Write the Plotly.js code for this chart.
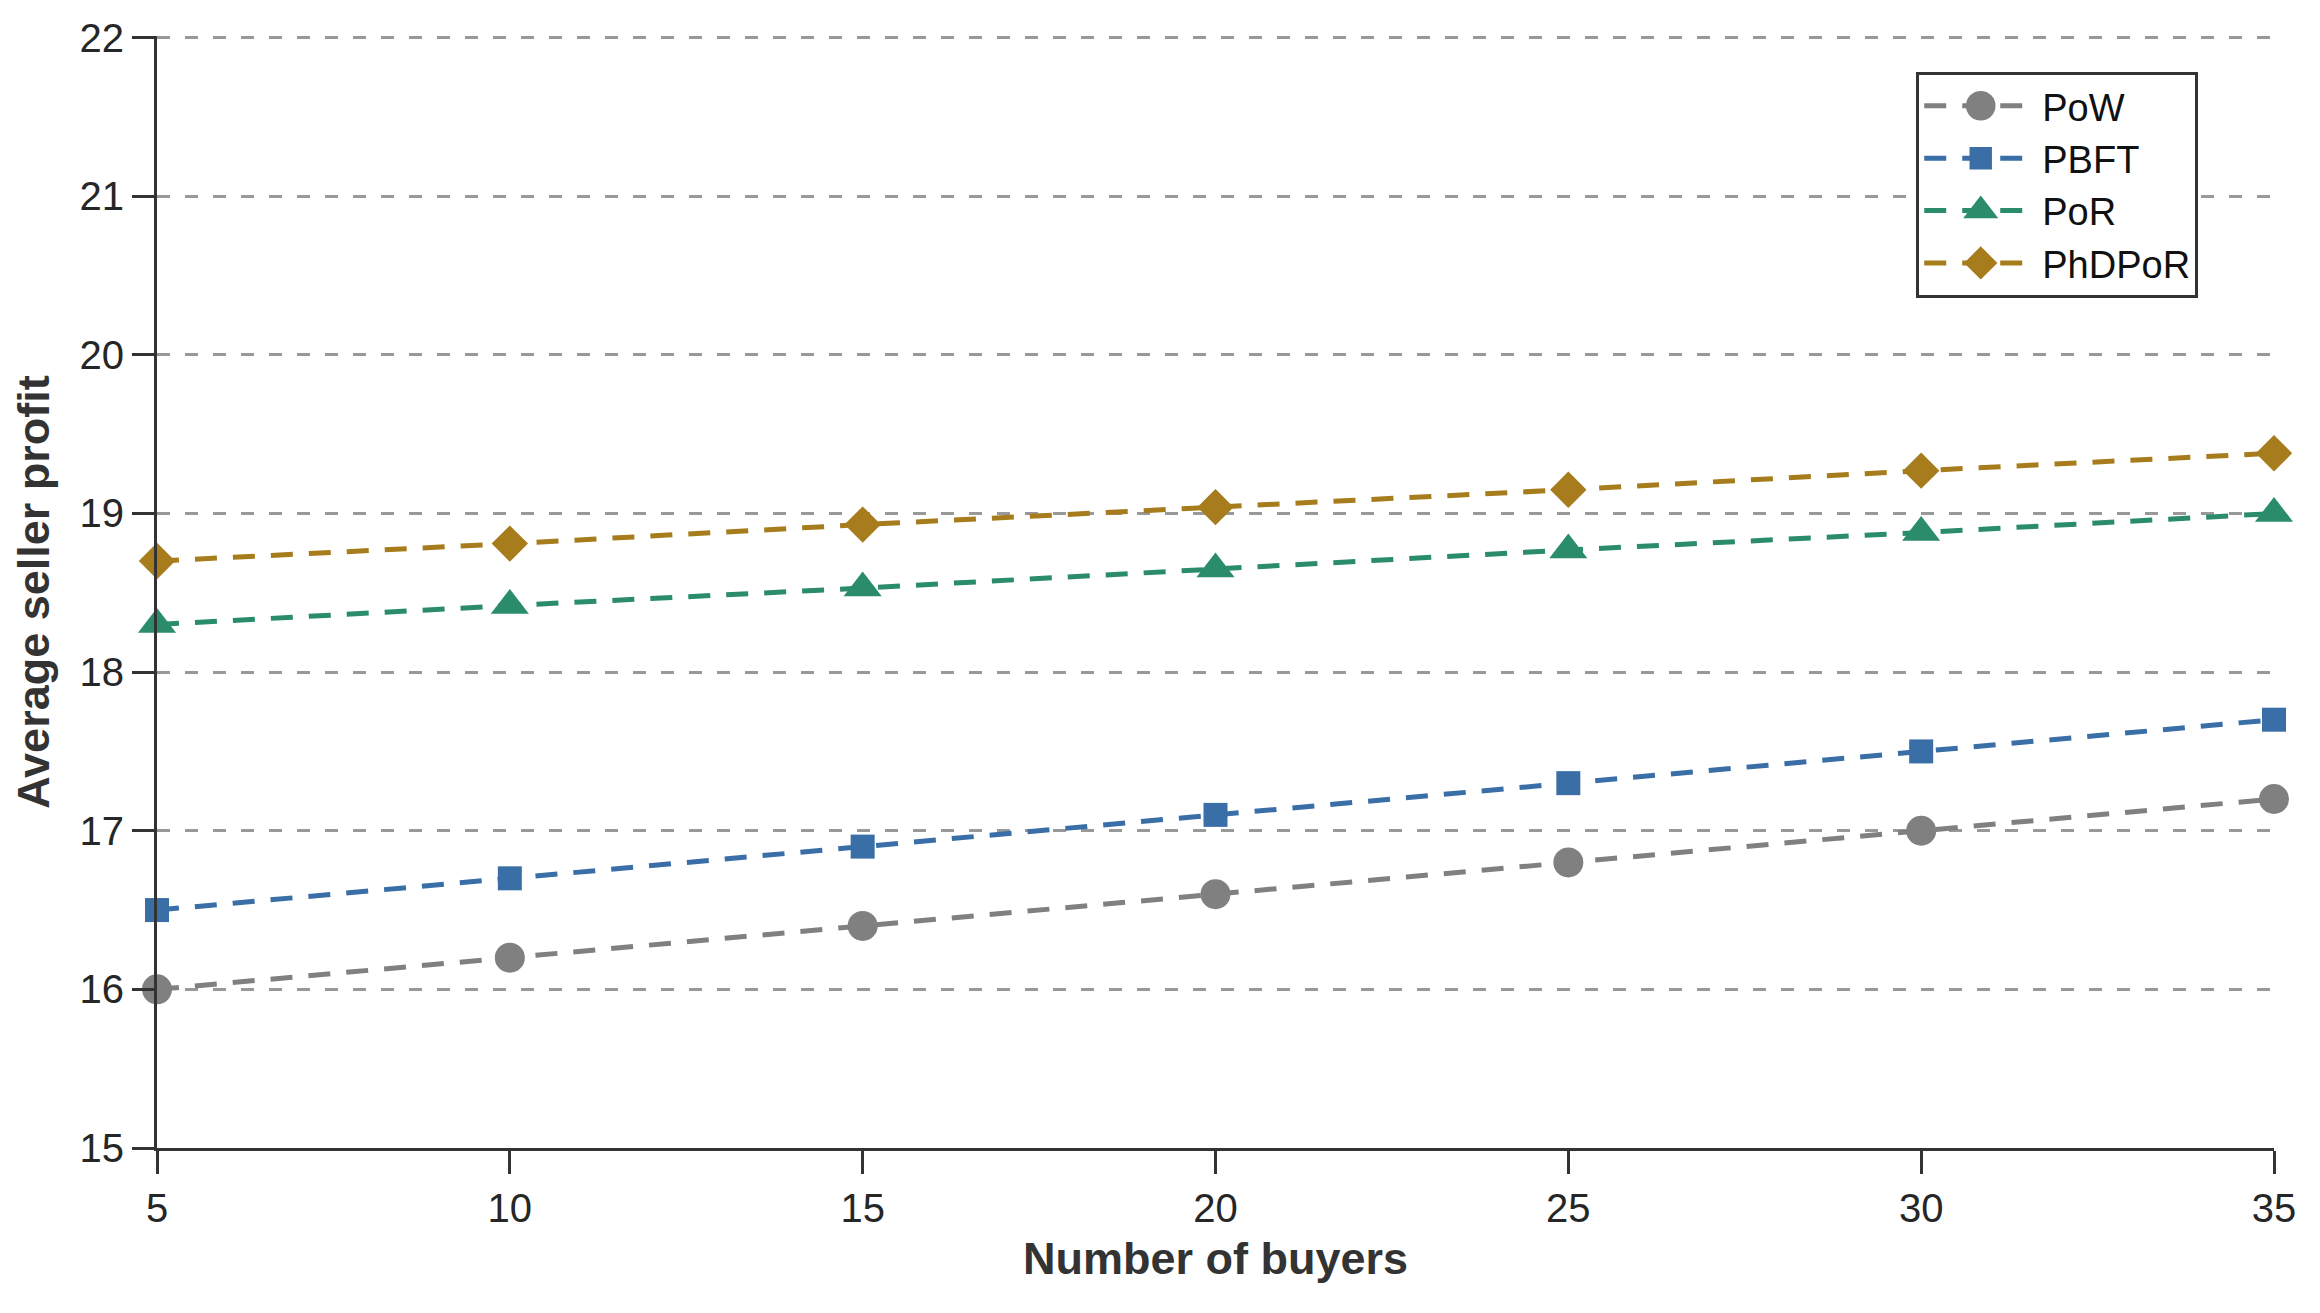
<!DOCTYPE html>
<html>
<head>
<meta charset="utf-8">
<script src="https://cdn.plot.ly/plotly-3.0.1.min.js"></script>
<style>
  html, body { margin: 0; padding: 0; background: #fff; }
  #plot { width: 2320px; height: 1313px; }
</style>
</head>
<body>
<div id="plot"></div>
<script>
// number of buyers on the x axis
let buyers = [5, 10, 15, 20, 25, 30, 35];

// average seller profit per consensus scheme
let pow    = [16.0, 16.2, 16.4, 16.6, 16.8, 17.0, 17.2];
let pbft   = [16.5, 16.7, 16.9, 17.1, 17.3, 17.5, 17.7];
let por    = [18.3, 18.42, 18.53, 18.65, 18.77, 18.88, 19.0];
let phdpor = [18.7, 18.81, 18.93, 19.04, 19.15, 19.27, 19.38];

let xTicks = [5, 10, 15, 20, 25, 30, 35];
let yTicks = [15, 16, 17, 18, 19, 20, 21, 22];

function makeTrace(name, y, color, symbol, size) {
  return {
    x: buyers,
    y: y,
    name: name,
    type: 'scatter',
    mode: 'lines+markers',
    cliponaxis: false,
    line: {color: color, width: 5, dash: '22px,16px'},
    marker: {symbol: symbol, size: size, color: color}
  };
}

let data = [
  makeTrace('PoW', pow, 'rgb(128,128,128)', 'circle', 30),
  makeTrace('PBFT', pbft, 'rgb(58,110,166)', 'square', 24),
  makeTrace('PoR', por, 'rgb(42,140,106)', 'triangle-up', 33),
  makeTrace('PhDPoR', phdpor, 'rgb(166,124,28)', 'diamond', 28)
];

// legend markers are capped at 16px by plotly, grow them back afterwards
let legendScale = [1.85, 1.4, 1.9, 1.6];

let layout = {
  width: 2320,
  height: 1313,
  margin: {l: 157, r: 46, t: 36, b: 165},
  paper_bgcolor: '#fff',
  plot_bgcolor: '#fff',
  font: {family: 'Liberation Sans, Arial, sans-serif', size: 40, color: '#262626'},
  showlegend: true,
  legend: {
    x: 0.831, y: 0.968, xanchor: 'left', yanchor: 'top',
    bordercolor: '#333', borderwidth: 3, bgcolor: '#fff',
    font: {size: 38, color: '#111'},
    itemwidth: 113,
    tracegroupgap: 0
  },
  xaxis: {
    range: [5, 35],
    tickvals: xTicks,
    ticks: 'outside', ticklen: 23, tickwidth: 3, tickcolor: '#333',
    showline: true, linecolor: '#333', linewidth: 3,
    showgrid: false, zeroline: false,
    tickfont: {size: 40},
    title: {text: '<b>Number of buyers</b>', font: {size: 45, color: '#333'}, standoff: 14}
  },
  yaxis: {
    range: [15, 22.01],
    tickvals: yTicks,
    ticks: 'outside', ticklen: 22, tickwidth: 3, tickcolor: '#333',
    showline: true, linecolor: '#333', linewidth: 3,
    showgrid: true, gridcolor: '#999', gridwidth: 3, griddash: '13px,15px',
    zeroline: false,
    tickfont: {size: 40},
    title: {text: '<b>Average seller profit</b>', font: {size: 45, color: '#333'}, standoff: 16}
  }
};

Plotly.newPlot('plot', data, layout, {displayModeBar: false}).then(function (gd) {
  let groups = gd.querySelectorAll('.legend .traces');
  groups.forEach(function (g, i) {
    g.querySelectorAll('path.scatterpts').forEach(function (p) {
      let t = p.getAttribute('transform') || '';
      p.setAttribute('transform', t + ' scale(' + legendScale[i] + ')');
    });
  });
});
</script>
</body>
</html>
